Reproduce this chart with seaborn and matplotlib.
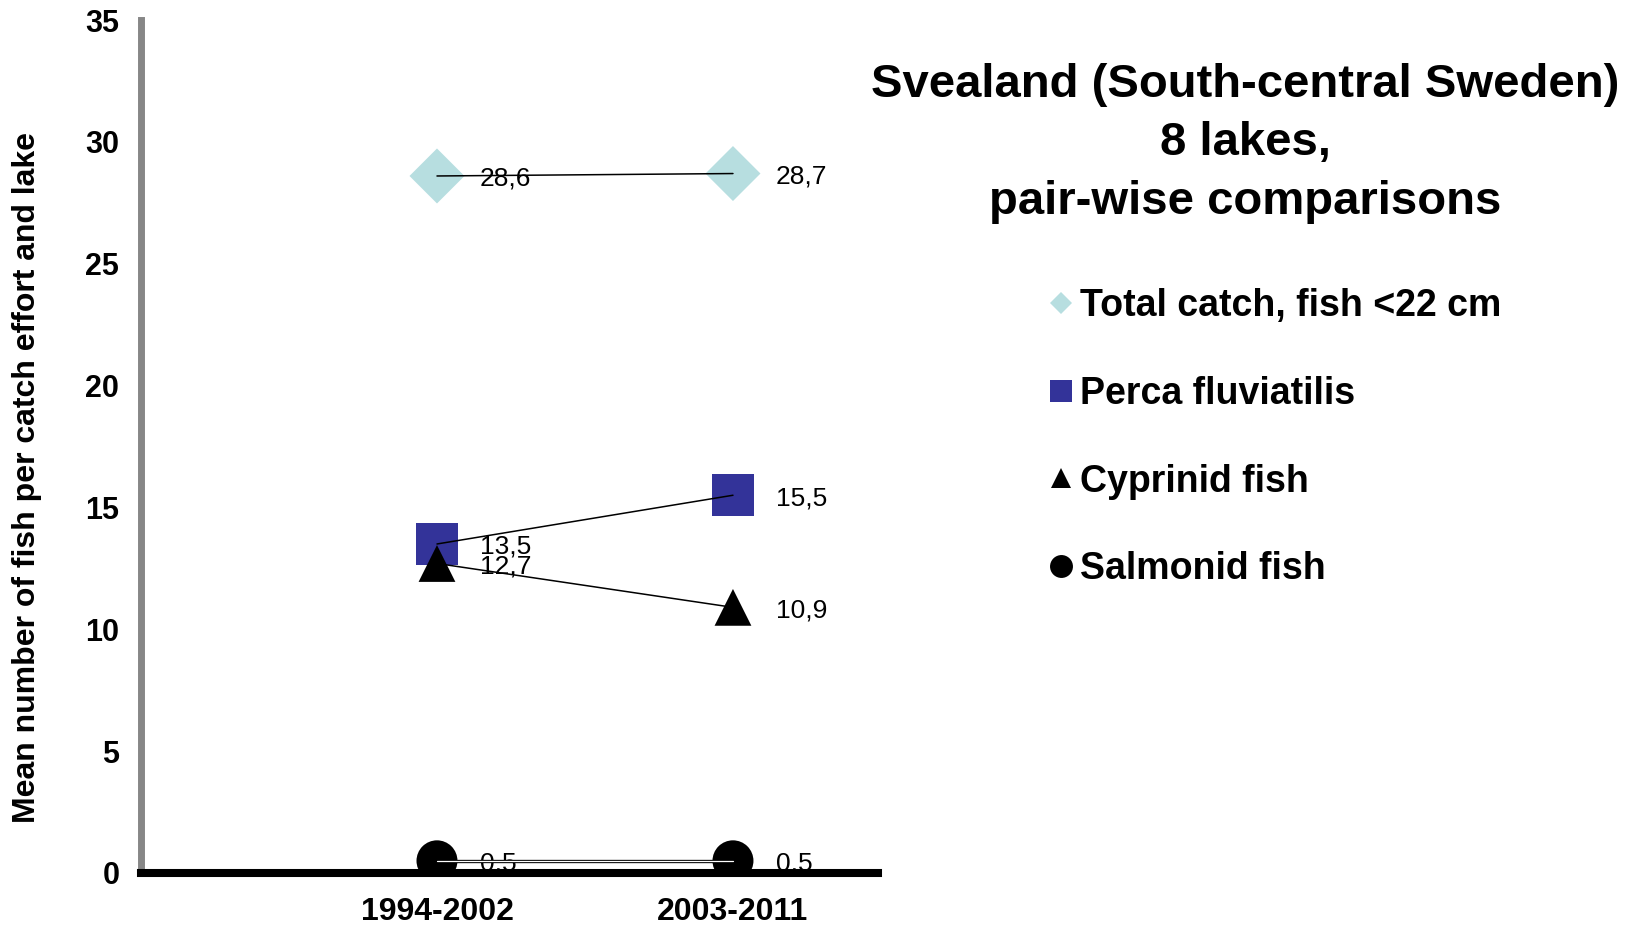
import matplotlib
matplotlib.use("Agg")
import matplotlib.pyplot as plt
from matplotlib.lines import Line2D
import numpy as np
import pandas as pd
import seaborn as sns

periods = ["1994-2002", "2003-2011"]
series = ["Total catch, fish <22 cm", "Perca fluviatilis", "Cyprinid fish", "Salmonid fish"]
total_catch = [28.6, 28.7]
perca = [13.5, 15.5]
cyprinid = [12.7, 10.9]
salmonid = [0.5, 0.5]

colors = {
    "Total catch, fish <22 cm": "#B7DEE0",
    "Perca fluviatilis": "#333399",
    "Cyprinid fish": "#000000",
    "Salmonid fish": "#000000",
}
markers = {
    "Total catch, fish <22 cm": "D",
    "Perca fluviatilis": "s",
    "Cyprinid fish": "^",
    "Salmonid fish": "o",
}
# scatter sizes (pt^2)
sizes = {
    "Total catch, fish <22 cm": 28 ** 2,
    "Perca fluviatilis": 30 ** 2,
    "Cyprinid fish": 26.5 ** 2,
    "Salmonid fish": 29.5 ** 2,
}
legend_ms = {
    "Total catch, fish <22 cm": 11.7,
    "Perca fluviatilis": 16.5,
    "Cyprinid fish": 13.7,
    "Salmonid fish": 16.5,
}

df = pd.DataFrame({
    "x": np.tile(np.arange(len(periods)), len(series)),
    "value": total_catch + perca + cyprinid + salmonid,
    "series": np.repeat(series, len(periods)),
})

sns.set_theme(style="white", rc={
    "text.color": "black",
    "axes.labelcolor": "black",
    "xtick.color": "black",
    "ytick.color": "black",
})
plt.rcParams["font.family"] = ["Liberation Sans", "DejaVu Sans"]

fig = plt.figure(figsize=(16.44, 9.26), dpi=100)
ax = fig.add_axes([141 / 1644, 53 / 926, 737 / 1644, 853 / 926])

sns.scatterplot(
    data=df, x="x", y="value",
    hue="series", style="series", size="series",
    palette=colors, markers=markers, sizes=sizes,
    linewidth=0, legend=False, ax=ax, zorder=2,
)

for name in series:
    sub = df[df["series"] == name]
    if name == "Salmonid fish":
        sns.lineplot(data=sub, x="x", y="value", color="black", lw=2.4, ax=ax, zorder=3)
        sns.lineplot(data=sub, x="x", y="value", color="white", lw=0.9, ax=ax, zorder=4)
    else:
        sns.lineplot(data=sub, x="x", y="value", color="black", lw=1.1, ax=ax, zorder=3)

for _, row in df.iterrows():
    ax.annotate(
        f"{row['value']:.1f}".replace(".", ","),
        (row["x"], row["value"]),
        xytext=(31, -2), textcoords="offset points",
        ha="left", va="center", fontsize=19, color="black", zorder=1,
    )

ax.set_xlim(-1.0, 1.49)
ax.set_ylim(0, 35)
ax.set_xticks(range(len(periods)))
ax.set_xticklabels(periods, fontsize=23, fontweight="bold")
ax.set_yticks(range(0, 36, 5))
ax.set_yticklabels([str(v) for v in range(0, 36, 5)], fontsize=22, fontweight="bold")
ax.tick_params(axis="x", length=0, pad=17)
ax.tick_params(axis="y", length=3.6, width=5, color="#878787", pad=12)
ax.set_xlabel("")
ax.set_ylabel("Mean number of fish per catch effort and lake", fontsize=23, fontweight="bold")
ax.yaxis.set_label_coords(-0.134, 0.464)

for s in ["top", "right"]:
    ax.spines[s].set_visible(False)
ax.spines["left"].set_color("#878787")
ax.spines["left"].set_linewidth(5)
ax.spines["bottom"].set_color("black")
ax.spines["bottom"].set_linewidth(5.8)
ax.spines["bottom"].set_zorder(5)

handles = [
    Line2D([], [], linestyle="none", marker=markers[n], color=colors[n],
           markersize=legend_ms[n], markeredgewidth=0)
    for n in series
]
fig.legend(
    handles, series, loc="upper left",
    bbox_to_anchor=(1048 / 1644, 1 - 288 / 926),
    frameon=False, borderpad=0, borderaxespad=0,
    handlelength=0.7, handletextpad=0.15, labelspacing=1.38,
    prop={"size": 27, "weight": "bold"},
)

fig.text(
    1245 / 1644, 1 - 63 / 926,
    "Svealand (South-central Sweden)\n8 lakes,\npair-wise comparisons",
    ha="center", va="top", fontsize=34, fontweight="bold",
    multialignment="center", linespacing=1.42,
)

fig.savefig("out.png", dpi=100)
